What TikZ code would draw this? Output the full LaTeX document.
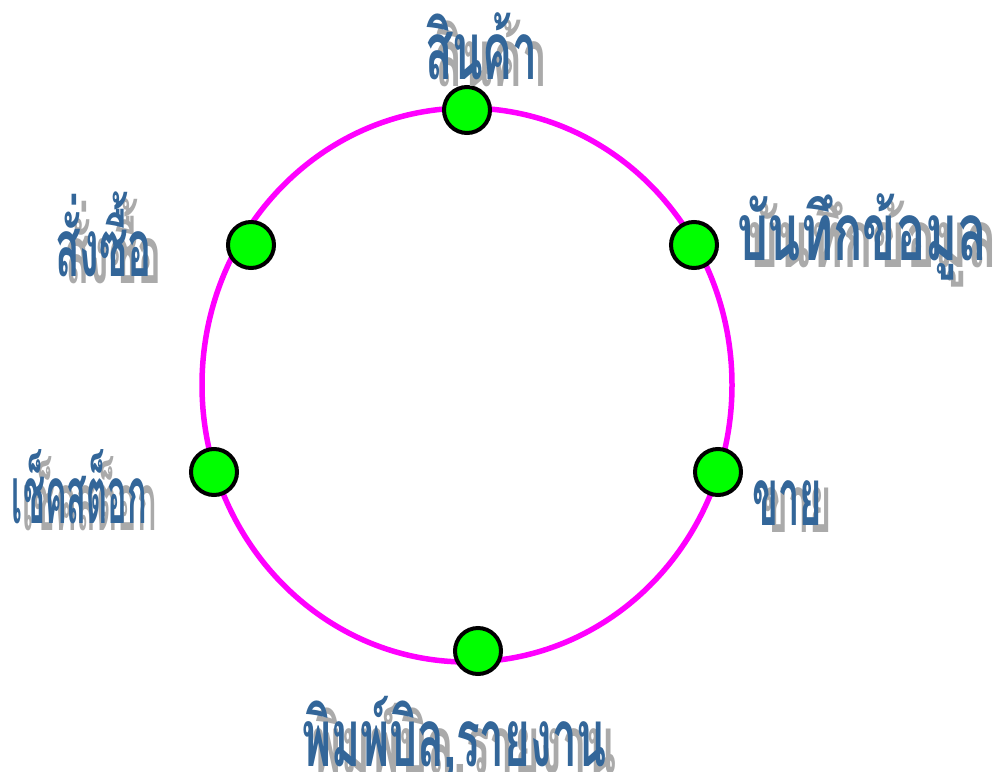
\documentclass[tikz,border=0pt]{standalone}
\usepackage{fontspec}
\usepackage{graphicx}
\newfontfamily\thaifont[Script=Thai]{Loma}
\definecolor{txtblue}{RGB}{51,102,153}
\definecolor{shgray}{RGB}{170,170,170}
\definecolor{ringmag}{RGB}{255,0,255}
\definecolor{dotgreen}{RGB}{0,255,0}
\tikzset{
  lbl/.style={anchor=base west, inner sep=0pt, outer sep=0pt,
    font=\thaifont\bfseries\fontsize{80}{90}\selectfont},
  dotnode/.style={circle, draw=black, line width=4pt, fill=dotgreen,
    minimum size=46pt, inner sep=0pt},
  ringline/.style={draw=ringmag, line width=5.5pt}
}
\newcommand{\thaiLabel}[5]{%
  \node[lbl, text=shgray] (#1s) at (#2+10,#3+7) {\resizebox{#4pt}{\height}{#5}};
  \node[lbl, text=txtblue] (#1) at (#2,#3) {\resizebox{#4pt}{\height}{#5}};
}
\begin{document}
\begin{tikzpicture}[x=1pt, y=-1pt]
\useasboundingbox (0,0) rectangle (998,771);
\draw[ringline] (467,385) ellipse [x radius=265, y radius=277];
\node[dotnode] (dtop) at (467,110) {};
\node[dotnode] (dur) at (694,245) {};
\node[dotnode] (dr) at (718,472) {};
\node[dotnode] (db) at (478,651) {};
\node[dotnode] (dl) at (214,472) {};
\node[dotnode] (dul) at (251,245) {};
\thaiLabel{ltop}{425}{79}{113}{สินค้า}
\thaiLabel{lur}{737}{260}{250}{บันทึกข้อมูล}
\thaiLabel{lul}{55}{276}{97}{สั่งซื้อ}
\thaiLabel{ll}{12}{523}{135}{เช็คสต็อก}
\thaiLabel{lr}{752}{525}{70}{ขาย}
\thaiLabel{lb}{302}{766}{305}{พิมพ์บิล,รายงาน}
\end{tikzpicture}
\end{document}
